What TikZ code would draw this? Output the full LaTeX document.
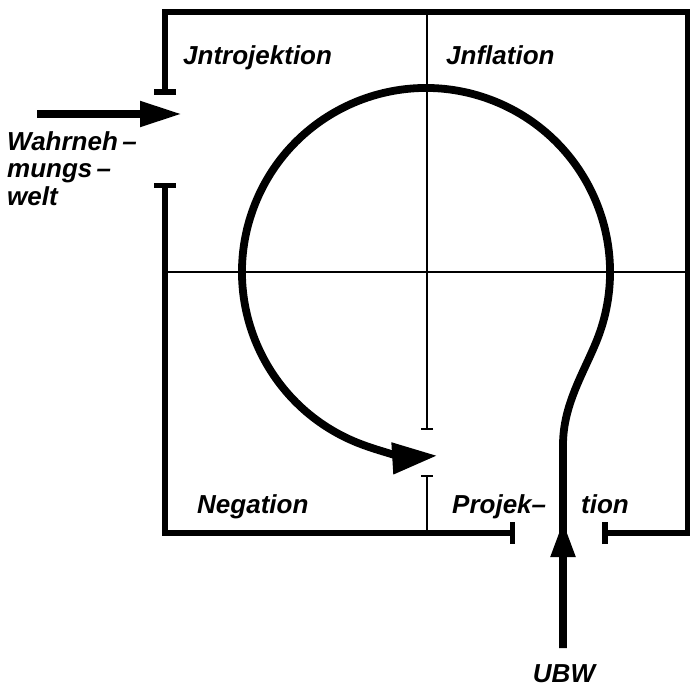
\documentclass[tikz,border=0pt]{standalone}
\usepackage{fontspec}
\setmainfont{Liberation Sans}
\usetikzlibrary{arrows.meta,calc}

\begin{document}
\begin{tikzpicture}[x=1pt,y=1pt,
frame/.style={line width=5.5pt},
axis/.style={line width=2.2pt},
loop/.style={line width=7.8pt},
lbl/.style={font=\bfseries\itshape\fontsize{26}{27.5}\selectfont,inner sep=0pt,anchor=base west},
gap/.style={{Bar[width=22pt]}-{Bar[width=22pt]}},
flow/.style={-{Triangle[length=42pt,width=24pt]}}]
\useasboundingbox (0,0) rectangle (690,686);
% frame with two openings
\draw[frame,gap] (165,591) -- (165,674) -- (688,674) -- (688,153) -- (602,153);
\draw[frame,gap] (165,503) -- (165,153) -- (515,153);
% axes
\coordinate (hub) at (426,414);
\draw[axis] (165,414) -- (688,414);
\draw[axis,-{Bar[width=12pt]}] (427,674) -- (427,256);
\draw[axis,{Bar[width=12pt]}-] (427,211) -- (427,153);
% labels
\node[lbl] (intro) at (183,621) {Jntrojektion};
\node[lbl] (infl) at (446,621) {Jnflation};
\node[lbl] (neg) at (197,173) {Negation};
\node[lbl] (proj) at (452,173) {Projek--};
\node[lbl] (projb) at (581,173) {tion};
\node[lbl,anchor=north west,align=left] (welt) at (7,555) {Wahrneh\,--\\mungs\,--\\welt};
\node[lbl,anchor=base] (ubw) at (564,4) {UBW};
% inputs
\coordinate (src) at (37,572);
\coordinate (inlet) at (182,572);
\coordinate (root) at (563,38);
\coordinate (rise) at (563,241);
\coordinate (join) at ($(hub)+(-22:184)$);
\coordinate (ubwtip) at (563,165);
\draw[loop,flow] (src) -- (inlet);
\draw[loop,-{Triangle[length=45pt,width=30pt]}] (root) -- (rise)
  .. controls (563,281) and (583.5,312.7) .. (join)
  arc[start angle=-22,end angle=273.5,radius=184pt];
\draw[loop,-{Triangle[length=36pt,width=23pt]}] (root) -- (ubwtip);
\end{tikzpicture}
\end{document}
